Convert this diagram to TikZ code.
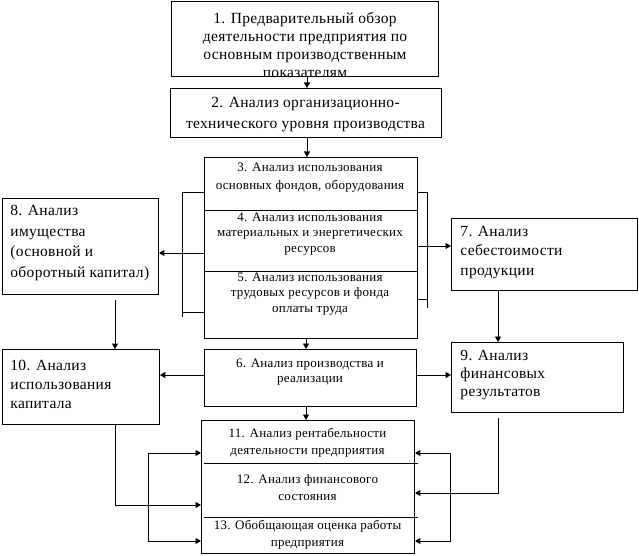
\documentclass[tikz,border=0pt]{standalone}
\usepackage{fontspec}
\setmainfont[LetterSpace=2]{Liberation Serif}
\usetikzlibrary{arrows.meta}
\begin{document}
\begin{tikzpicture}[x=1pt,y=-1pt,line width=0.9pt,
  box/.style={draw,line width=0.9pt,inner sep=0pt,anchor=north west},
  bigc/.style={inner sep=0pt,align=center,font=\fontsize{15.5}{#1}\selectfont},
  bigl/.style={inner sep=0pt,align=left,anchor=west,font=\fontsize{15.5}{#1}\selectfont},
  smallc/.style={inner sep=0pt,align=center,yshift=-1.5pt,font=\fontsize{13}{#1}\selectfont},
  arr/.style={-{Triangle[length=5.5pt,width=6pt]}},
]
\useasboundingbox (0,0) rectangle (639,556);
% boxes
\node[box,minimum width=267pt,minimum height=75pt] (b1) at (171,1) {};
\node[box,minimum width=271pt,minimum height=49pt] (b2) at (170,88) {};
\node[box,minimum width=213pt,minimum height=181pt] (b35) at (204,157) {};
\node[box,minimum width=156pt,minimum height=96pt] (b8) at (2,198) {};
\node[box,minimum width=186pt,minimum height=72pt] (b7) at (451,218) {};
\node[box,minimum width=212pt,minimum height=57pt] (b6) at (204,349) {};
\node[box,minimum width=172pt,minimum height=70pt] (b9) at (451,342) {};
\node[box,minimum width=157pt,minimum height=75pt] (b10) at (2,349) {};
\node[box,minimum width=213pt,minimum height=133pt] (b11) at (201,420) {};
% dividers
\draw (b35.west |- 0,210) -- (b35.east |- 0,210);
\draw (b35.west |- 0,271) -- (b35.east |- 0,271);
\draw ([xshift=3pt]b11.west |- 0,463) -- ([xshift=3pt]b11.east |- 0,463);
\draw ([xshift=3pt]b11.west |- 0,517) -- ([xshift=3pt]b11.east |- 0,517);
% texts
\node[bigc=18] (t1) at (305,45.5) {1. Предварительный обзор\\деятельности предприятия по\\основным производственным\\показателям};
\node[bigc=21] (t2) at (305.5,114.5) {2. Анализ организационно-\\технического уровня производства};
\node[smallc=18] (t3) at (310,176) {3. Анализ использования\\основных фондов, оборудования};
\node[smallc=15.5] (t4) at (310,232.5) {4. Анализ использования\\материальных и энергетических\\ресурсов};
\node[smallc=15.5] (t5) at (310,292.5) {5. Анализ использования\\трудовых ресурсов и фонда\\оплаты труда};
\node[smallc=15.5] (t6) at (310,370.5) {6. Анализ производства и\\реализации};
\node[smallc=17] (t11) at (307.5,441.5) {11. Анализ рентабельности\\деятельности предприятия};
\node[smallc=17] (t12) at (307.5,486.5) {12. Анализ финансового\\состояния};
\node[smallc=17] (t13) at (307.5,533.5) {13. Обобщающая оценка работы\\предприятия};
\node[bigl=20.5] (t8) at (10,243) {8. Анализ\\имущества\\(основной и\\оборотный капитал)};
\node[bigl=19.5] (t7) at (460,252.5) {7. Анализ\\себестоимости\\продукции};
\node[bigl=18] (t9) at (460,375) {9. Анализ\\финансовых\\результатов};
\node[bigl=19] (t10) at (10,384) {10. Анализ\\использования\\капитала};
% connectors
\draw[arr] (b1.south -| 307,0) -- (b2.north -| 307,0);
\draw[arr] (b2.south -| 307,0) -- (b35.north -| 307,0);
\draw[arr] (b35.south -| 306,0) -- (b6.north -| 306,0);
\draw[arr] (b6.south -| 306,0) -- (b11.north -| 306,0);
% left bracket
\draw (b35.west |- 0,192) -- (182,192) -- (182,317);
\draw (182,312) -- (b35.west |- 0,312);
\draw[arr] (b35.west |- 0,253) -- (b8.east |- 0,253);
% right bracket
\draw (b35.east |- 0,192) -- (427,192) -- (427,308);
\draw (b35.east |- 0,299) -- (427,299);
\draw[arr] (b35.east |- 0,246) -- (b7.west |- 0,246);
% 8 -> 10, 7 -> 9
\draw[arr] ([yshift=-5pt]b8.south -| 115,0) -- (b10.north -| 115,0);
\draw[arr] (b7.south -| 498,0) -- (b9.north -| 498,0);
% 6 -> 10, 6 -> 9
\draw[arr] (b6.west |- 0,375) -- (b10.east |- 0,375);
\draw[arr] (b6.east |- 0,375) -- (b9.west |- 0,375);
% 10 -> 12
\draw[arr] (b10.south -| 115,0) -- (115,505) -- (b11.west |- 0,505);
% left loop
\draw[arr] (148,453) -- (b11.west |- 0,453);
\draw[arr] (148,453) -- (148,541) -- (b11.west |- 0,541);
% right loop
\draw[arr] (450,453) -- (b11.east |- 0,453);
\draw[arr] (450,453) -- (450,541) -- (b11.east |- 0,541);
% 9 -> 12
\draw[arr] ([yshift=-5pt]b9.south -| 498,0) -- (498,493) -- (b11.east |- 0,493);
\end{tikzpicture}
\end{document}
